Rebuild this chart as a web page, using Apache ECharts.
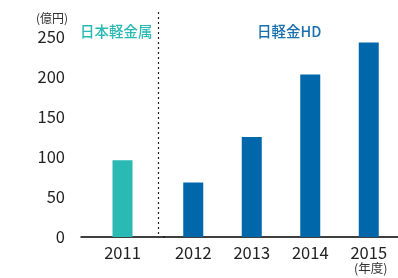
<!DOCTYPE html>
<html><head><meta charset="utf-8">
<script src="https://cdn.jsdelivr.net/npm/echarts@6/dist/echarts.min.js"></script>
<style>html,body{margin:0;padding:0;background:#fff}#c{width:398px;height:278px}</style>
</head><body><div id="c"></div>
<script>
const categoriesA = ['2011'];
const valuesA = [96];
const categoriesB = ['2012', '2013', '2014', '2015'];
const valuesB = [68, 125, 203, 243];
const yTicks = { min: 0, max: 250, interval: 50 };
const unitY = '(億円)';
const unitX = '(年度)';
const labelA = '日本軽金属';
const labelB = '日軽金HD';

const teal = '#2bb9b4';
const blue = '#0068aa';
const font = '"Noto Sans CJK JP", "Noto Sans", sans-serif';

const chart = echarts.init(document.getElementById('c'), null, { renderer: 'canvas' });
const xCommon = {
  type: 'category',
  axisLine: { show: true, lineStyle: { color: '#000', width: 1.5 } },
  axisTick: { show: false },
  axisLabel: { color: '#222', fontSize: 16.5, fontFamily: font, margin: 7 }
};
const yCommon = {
  type: 'value', min: yTicks.min, max: yTicks.max, interval: yTicks.interval,
  axisLine: { show: false }, axisTick: { show: false }, splitLine: { show: false }
};
chart.setOption({
  animation: false,
  grid: [
    { left: 81, width: 83, top: 37, bottom: 41 },
    { left: 164, width: 239, top: 37, bottom: 41 }
  ],
  xAxis: [
    Object.assign({ gridIndex: 0, data: categoriesA }, xCommon),
    Object.assign({ gridIndex: 1, data: categoriesB }, xCommon)
  ],
  yAxis: [
    Object.assign({ gridIndex: 0, axisLabel: { color: '#222', fontSize: 16.5, fontFamily: font, margin: 16 } }, yCommon),
    Object.assign({ gridIndex: 1, axisLabel: { show: false } }, yCommon)
  ],
  series: [
    { type: 'bar', xAxisIndex: 0, yAxisIndex: 0, data: valuesA, barWidth: 20, itemStyle: { color: teal } },
    { type: 'bar', xAxisIndex: 1, yAxisIndex: 1, data: valuesB, barWidth: 20, itemStyle: { color: blue } }
  ],
  graphic: [
    { type: 'line', shape: { x1: 158.5, y1: 12, x2: 158.5, y2: 237 }, style: { stroke: '#222', lineWidth: 1.2, lineDash: [2, 3] } },
    { type: 'text', left: 36, top: 12, style: { text: unitY, font: '12px ' + font, fill: '#333' } },
    { type: 'text', left: 354, top: 262, style: { text: unitX, font: '12.5px ' + font, fill: '#333' } },
    { type: 'text', left: 80, top: 24, style: { text: labelA, font: '500 14.5px ' + font, fill: teal } },
    { type: 'text', left: 257, top: 24, style: { text: labelB, font: '500 14.5px ' + font, fill: '#1a6fae' } }
  ]
});
</script></body></html>
